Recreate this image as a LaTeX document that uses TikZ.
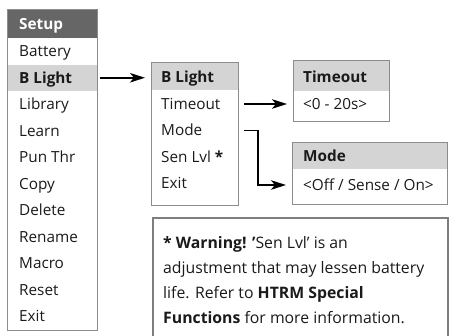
\documentclass[tikz,border=0pt]{standalone}
\usepackage{fontspec}
\setmainfont{Open Sans}
\usetikzlibrary{arrows.meta}
\definecolor{bordergray}{HTML}{8C8C8C}
\definecolor{darkhead}{HTML}{666666}
\definecolor{lighthead}{HTML}{D4D4D4}
\definecolor{ink}{HTML}{1A1A1A}
\begin{document}
\begin{tikzpicture}[x=1pt,y=-1pt,
  frame/.style={draw=bordergray,line width=1.2pt,fill=none,inner sep=0pt,anchor=north west},
  band/.style={inner sep=0pt,anchor=north west,draw=none},
  rowtxt/.style={anchor=west,inner sep=0pt,text height=10.8pt,text depth=0pt,font=\fontsize{15.3}{18}\selectfont,text=ink},
  headtxt/.style={rowtxt,font=\fontsize{15.3}{18}\selectfont\bfseries},
  warntxt/.style={rowtxt,text height=11pt,font=\fontsize{15.8}{18}\selectfont},
  arr/.style={line width=1.8pt,draw=black,-{Stealth[length=15pt,width=9.5pt,inset=4pt]}}]
\useasboundingbox (0,0) rectangle (450,335);

% ---- Setup menu
\node[band,fill=darkhead,minimum width=90pt,minimum height=29pt] (setuphead) at (7,9) {};
\node[band,fill=lighthead,minimum width=90pt,minimum height=26.5pt] (sband) at (7,64.5) {};
\node[frame,minimum width=90pt,minimum height=321pt] (setupbox) at (7,9) {};
\node[headtxt,text=white] (ssetup) at (19,24) {Setup};
\node[rowtxt] (sbattery) at (19,51.25) {Battery};
\node[headtxt] (sblight) at (19,77.75) {B Light};
\node[rowtxt] (slibrary) at (19,104.25) {Library};
\node[rowtxt] (slearn) at (19,130.75) {Learn};
\node[rowtxt] (spun) at (19,157.25) {Pun Thr};
\node[rowtxt] (scopy) at (19,183.75) {Copy};
\node[rowtxt] (sdelete) at (19,210.25) {Delete};
\node[rowtxt] (srename) at (19,236.75) {Rename};
\node[rowtxt] (smacro) at (19,263.25) {Macro};
\node[rowtxt] (sreset) at (19,289.75) {Reset};
\node[rowtxt] (sexit) at (19,316.25) {Exit};

% ---- B Light menu
\node[band,fill=lighthead,minimum width=87pt,minimum height=28pt] (blhead) at (151,62) {};
\node[frame,minimum width=87pt,minimum height=143pt] (blbox) at (151,62) {};
\node[headtxt] (bltitle) at (161,77) {B Light};
\node[rowtxt] (btimeout) at (161,104) {Timeout};
\node[rowtxt] (bmode) at (161,130.5) {Mode};
\node[rowtxt] (bsen) at (161,157) {Sen Lvl \textbf{*}};
\node[rowtxt] (bexit) at (161,183) {Exit};

% ---- Timeout box
\node[band,fill=lighthead,minimum width=96pt,minimum height=31pt] (tohead) at (293,60) {};
\node[frame,minimum width=96pt,minimum height=61pt] (tobox) at (293,60) {};
\node[headtxt] (totitle) at (303,77) {Timeout};
\node[rowtxt] (toval) at (303,104) {<0 - 20s>};

% ---- Mode box
\node[band,fill=lighthead,minimum width=155pt,minimum height=27pt] (mohead) at (292,142) {};
\node[frame,minimum width=155pt,minimum height=62pt] (mobox) at (292,142) {};
\node[headtxt] (motitle) at (303,156) {Mode};
\node[rowtxt] (moval) at (303,185) {<Off / Sense / On>};

% ---- Warning box
\node[frame,line width=1.6pt,draw=bordergray!90!black,minimum width=295pt,minimum height=130pt] (warnbox) at (152,217) {};
\node[warntxt] (w1) at (163,243) {\textbf{* Warning! ’}Sen Lvl’ is an};
\node[warntxt] (w2) at (163,268) {adjustment that may lessen battery};
\node[warntxt] (w3) at (163,293) {life. Refer to \textbf{HTRM Special}};
\node[warntxt] (w4) at (163,318) {\textbf{Functions} for more information.};

% ---- connectors
\coordinate (bend) at (258,0);
\draw[arr] ([xshift=2pt]setupbox.east |- sblight.west) -- ([xshift=-6pt]blbox.west |- sblight.west);
\draw[arr] ([xshift=5pt]blbox.east |- btimeout.west) -- ([xshift=-6pt]tobox.west |- btimeout.west);
\draw[arr] ([xshift=5pt]blbox.east |- bmode.west) -| (bend |- moval.west) -- ([xshift=-6pt]mobox.west |- moval.west);
\end{tikzpicture}
\end{document}
